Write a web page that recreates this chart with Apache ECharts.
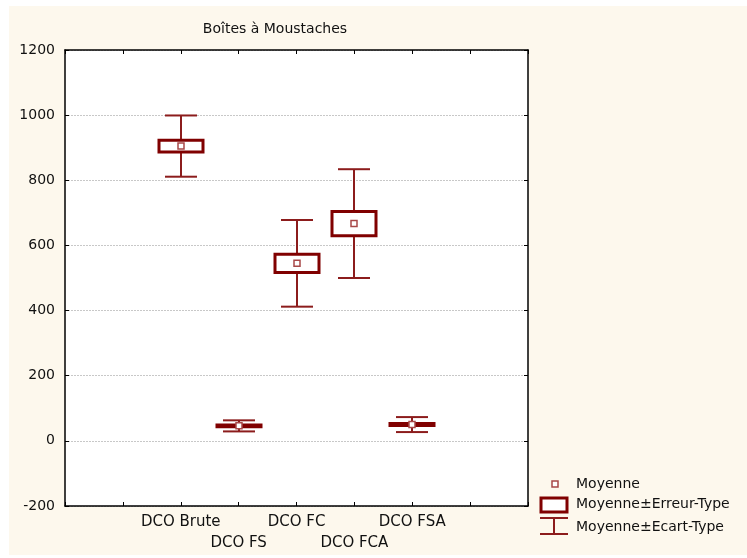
<!DOCTYPE html>
<html>
<head>
<meta charset="utf-8">
<script src="https://cdn.jsdelivr.net/npm/echarts@6/dist/echarts.min.js"></script>
<style>
  html, body { margin: 0; padding: 0; background: #fff; }
  #chart { width: 747px; height: 558px; }
</style>
</head>
<body>
<div id="chart"></div>
<script>
// Box-and-whisker summary: mean, standard error (box), standard deviation (whiskers)
const categories = ['DCO Brute', 'DCO FS', 'DCO FC', 'DCO FCA', 'DCO FSA'];
const means      = [905, 46, 545, 667, 50];
const stdErrors  = [18, 3, 28, 37, 3];
const stdDevs    = [94, 17, 133, 167, 23];
const yTicks     = { min: -200, max: 1200, step: 200 };

// two empty slots on each side of the five groups
const PAD = 2;
const axisSlots = ['', ''].concat(categories, ['', '']);

const FONT = 'DejaVu Sans';
const BOX_COLOR = '#800000';
const WHISKER_COLOR = '#8c1c1c';
const MEAN_COLOR = '#a84848';

const seriesData = categories.map((c, i) => [i + PAD, means[i], stdErrors[i], stdDevs[i]]);

function renderBox(params, api) {
  const x = api.value(0), m = api.value(1), se = api.value(2), sd = api.value(3);
  const c = api.coord([x, m]);
  const cx = Math.round(c[0]);
  const sdTop = api.coord([x, m + sd])[1];
  const sdBot = api.coord([x, m - sd])[1];
  const seTop = api.coord([x, m + se])[1];
  const seBot = api.coord([x, m - se])[1];
  const boxW = 44, capW = 32, mk = 6;
  const lineStyle = { stroke: WHISKER_COLOR, lineWidth: 2 };
  return {
    type: 'group',
    children: [
      { type: 'line', shape: { x1: cx, y1: sdTop, x2: cx, y2: sdBot }, style: lineStyle },
      { type: 'line', shape: { x1: cx - capW / 2, y1: sdTop, x2: cx + capW / 2, y2: sdTop }, style: lineStyle },
      { type: 'line', shape: { x1: cx - capW / 2, y1: sdBot, x2: cx + capW / 2, y2: sdBot }, style: lineStyle },
      { type: 'rect', shape: { x: cx - boxW / 2, y: seTop, width: boxW, height: seBot - seTop },
        style: { fill: '#fff', stroke: BOX_COLOR, lineWidth: 3 } },
      { type: 'rect', shape: { x: cx - mk / 2, y: c[1] - mk / 2, width: mk, height: mk },
        style: { fill: '#fff', stroke: MEAN_COLOR, lineWidth: 1.5 } }
    ]
  };
}

const chart = echarts.init(document.getElementById('chart'), null, { renderer: 'canvas' });

const axisLineStyle = { color: '#000', width: 1.5 };

chart.setOption({
  backgroundColor: '#fff',
  animation: false,
  grid: { left: 65, top: 50, right: 219, bottom: 52, show: true, backgroundColor: '#fff', borderWidth: 0 },
  xAxis: [
    {
      type: 'category', data: axisSlots, boundaryGap: false, position: 'bottom',
      axisLine: { onZero: false, lineStyle: axisLineStyle },
      axisTick: { inside: true, length: 4, lineStyle: { color: '#000', width: 1 }, interval: 0 },
      axisLabel: {
        interval: 0, margin: 6, color: '#111', fontFamily: FONT, fontSize: 15, lineHeight: 21,
        formatter: (v, idx) => {
          const k = idx - PAD;
          if (k < 0 || k >= categories.length) return '';
          return (k % 2 === 1 ? '\n' : '') + v;
        }
      },
      splitLine: { show: false }
    },
    {
      type: 'category', data: axisSlots, boundaryGap: false, position: 'top',
      axisLine: { onZero: false, lineStyle: axisLineStyle },
      axisTick: { inside: true, length: 4, lineStyle: { color: '#000', width: 1 }, interval: 0 },
      axisLabel: { show: false },
      splitLine: { show: false }
    }
  ],
  yAxis: [
    {
      type: 'value', min: yTicks.min, max: yTicks.max, interval: yTicks.step, position: 'left',
      axisLine: { show: true, onZero: false, lineStyle: axisLineStyle },
      axisTick: { show: true, inside: true, length: 4, lineStyle: { color: '#000', width: 1 } },
      axisLabel: { margin: 10, color: '#111', fontFamily: FONT, fontSize: 14, formatter: v => String(v) },
      splitLine: { show: true, lineStyle: { color: '#c8c8c8', type: [2, 1], width: 1 } }
    },
    {
      type: 'value', min: yTicks.min, max: yTicks.max, interval: yTicks.step, position: 'right',
      axisLine: { show: true, onZero: false, lineStyle: axisLineStyle },
      axisTick: { show: true, inside: true, length: 4, lineStyle: { color: '#000', width: 1 } },
      axisLabel: { show: false },
      splitLine: { show: false }
    }
  ],
  series: [{
    type: 'custom',
    xAxisIndex: 0, yAxisIndex: 0,
    renderItem: renderBox,
    data: seriesData,
    z: 5
  }],
  graphic: [
    // cream panel
    { type: 'rect', z: -10, silent: true, shape: { x: 9, y: 6, width: 738, height: 549 },
      style: { fill: '#fdf8ed' } },
    // title
    { type: 'text', x: 275, y: 29, silent: true,
      style: { text: 'Boîtes à Moustaches', fontFamily: FONT, fontSize: 14, fill: '#111',
               textAlign: 'center', textVerticalAlign: 'middle' } },
    // legend: mean marker
    { type: 'rect', silent: true, shape: { x: 552, y: 481, width: 6, height: 6 },
      style: { fill: '#fff', stroke: MEAN_COLOR, lineWidth: 1.5 } },
    { type: 'text', x: 576, y: 484, silent: true,
      style: { text: 'Moyenne', fontFamily: FONT, fontSize: 14, fill: '#111', textVerticalAlign: 'middle' } },
    // legend: standard error box
    { type: 'rect', silent: true, shape: { x: 541, y: 498, width: 26, height: 14 },
      style: { fill: '#fff', stroke: BOX_COLOR, lineWidth: 3 } },
    { type: 'text', x: 576, y: 504, silent: true,
      style: { text: 'Moyenne±Erreur-Type', fontFamily: FONT, fontSize: 14, fill: '#111', textVerticalAlign: 'middle' } },
    // legend: standard deviation whisker
    { type: 'line', silent: true, shape: { x1: 540, y1: 518, x2: 568, y2: 518 },
      style: { stroke: WHISKER_COLOR, lineWidth: 2 } },
    { type: 'line', silent: true, shape: { x1: 554, y1: 518, x2: 554, y2: 534 },
      style: { stroke: WHISKER_COLOR, lineWidth: 2 } },
    { type: 'line', silent: true, shape: { x1: 540, y1: 534, x2: 568, y2: 534 },
      style: { stroke: WHISKER_COLOR, lineWidth: 2 } },
    { type: 'text', x: 576, y: 527, silent: true,
      style: { text: 'Moyenne±Ecart-Type', fontFamily: FONT, fontSize: 14, fill: '#111', textVerticalAlign: 'middle' } }
  ]
});
</script>
</body>
</html>
